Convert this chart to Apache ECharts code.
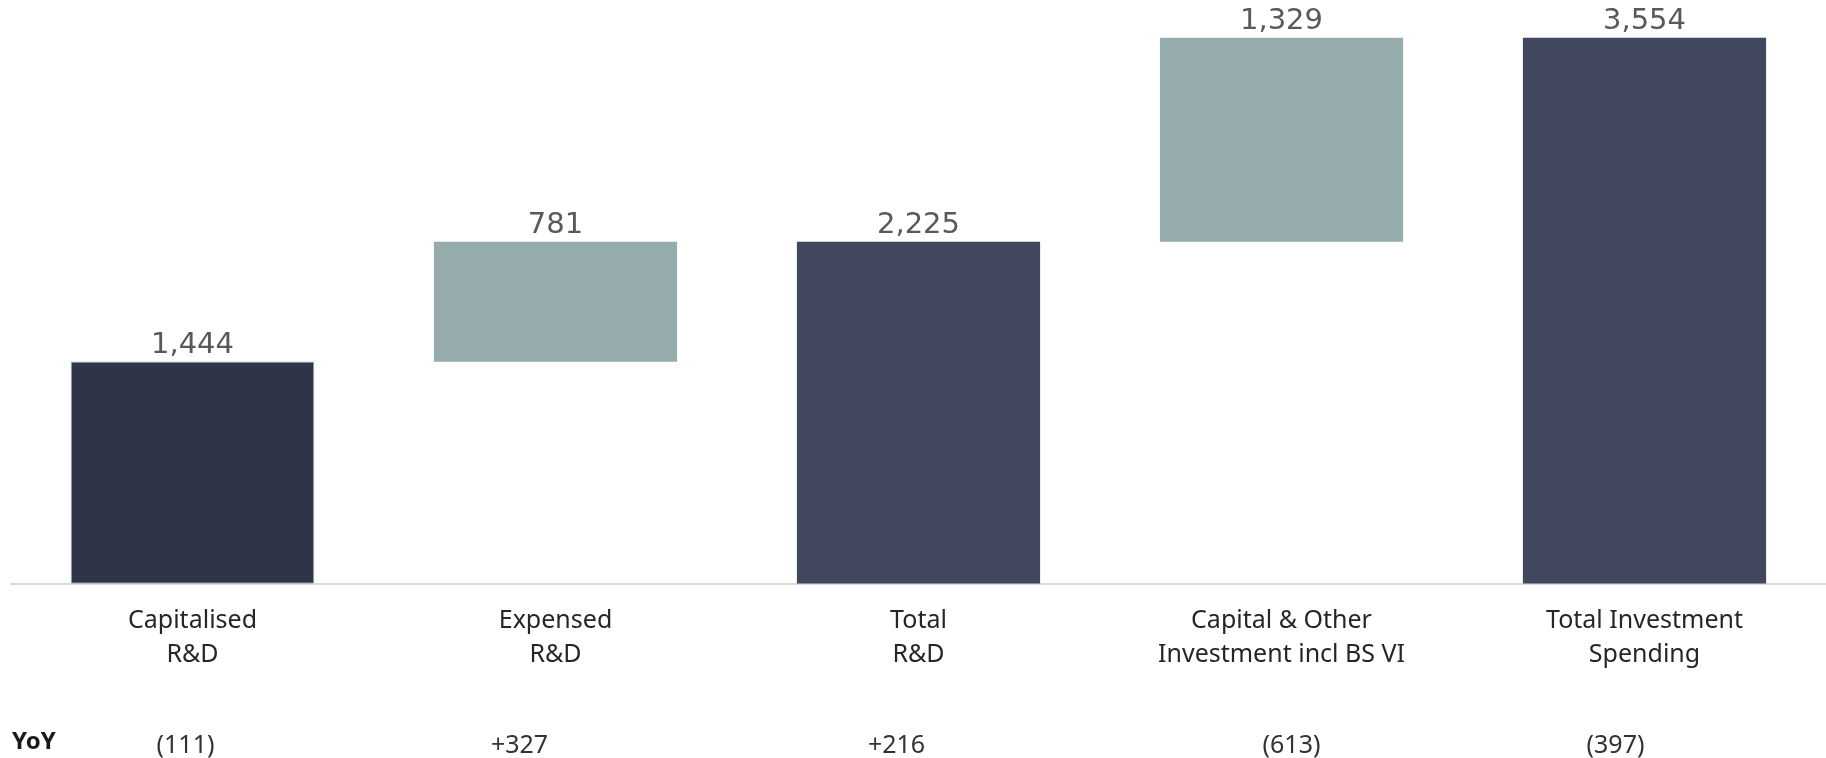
<!DOCTYPE html>
<html>
<head>
<meta charset="utf-8">
<script src="https://cdn.jsdelivr.net/npm/echarts@6/dist/echarts.min.js"></script>
<style>
  html, body { margin: 0; padding: 0; background: #ffffff; }
  #chart { width: 1826px; height: 758px; }
</style>
</head>
<body>
<div id="chart"></div>
<script>
// Investment spending bridge (waterfall)
const categories = [
  'Capitalised\nR&D',
  'Expensed\nR&D',
  'Total\nR&D',
  'Capital & Other\nInvestment incl BS VI',
  'Total Investment\nSpending'
];
const values = [1444, 781, 2225, 1329, 3554];
const kinds = ['total', 'delta', 'total', 'delta', 'total'];
const yoyLabels = ['(111)', '+327', '+216', '(613)', '(397)'];
// horizontal nudge (px) of each YoY figure relative to its column centre
const yoyShift = [-7, -36, -22, 10, -29];

const colors = {
  first: '#2f3546',
  total: '#41475c',
  delta: '#95abac'
};

// invisible base for floating delta bars
const base = [];
let running = 0;
values.forEach((v, i) => {
  if (kinds[i] === 'delta') {
    base.push(running);
    running += v;
  } else {
    base.push(0);
    running = v;
  }
});

const visible = values.map((v, i) => {
  const color = kinds[i] === 'delta' ? colors.delta : colors.total;
  const item = { value: v, itemStyle: { color: color } };
  if (i === 0) {
    item.itemStyle = { color: colors.first, borderColor: '#8fa1a3', borderWidth: 1 };
  }
  return item;
});

const yoyAxisData = yoyLabels.map((t, i) => {
  const s = yoyShift[i];
  return {
    value: t,
    textStyle: { padding: s < 0 ? [0, -2 * s, 0, 0] : [0, 0, 0, 2 * s] }
  };
});

const FONT = '"Noto Sans", "Open Sans", sans-serif';
const VALUE_FONT = '"DejaVu Sans", "Noto Sans", sans-serif';

const chart = echarts.init(document.getElementById('chart'), null, { renderer: 'canvas' });
chart.setOption({
  animation: false,
  backgroundColor: '#ffffff',
  grid: { left: 11, right: 0, top: 0, bottom: 174.5, containLabel: false, outerBoundsMode: 'none' },
  xAxis: [
    {
      type: 'category',
      data: categories,
      axisLine: { show: true, lineStyle: { color: '#d9d9d9', width: 2 } },
      axisTick: { show: false },
      axisLabel: {
        margin: 21,
        fontFamily: FONT,
        fontSize: 25,
        lineHeight: 33.5,
        color: '#262626',
        interval: 0
      }
    },
    {
      type: 'category',
      position: 'bottom',
      offset: 130,
      data: yoyAxisData,
      axisLine: { show: false },
      axisTick: { show: false },
      axisLabel: {
        margin: 17,
        fontFamily: FONT,
        fontSize: 25,
        lineHeight: 30,
        color: '#333333',
        interval: 0
      }
    }
  ],
  yAxis: {
    type: 'value',
    min: 0,
    max: 3800,
    show: false,
    splitLine: { show: false }
  },
  graphic: [
    {
      type: 'text',
      left: 12,
      top: 730,
      style: {
        text: 'YoY',
        fontFamily: FONT,
        fontSize: 24,
        fontWeight: 'bold',
        fill: '#1a1a1a'
      }
    }
  ],
  series: [
    {
      type: 'bar',
      stack: 'bridge',
      barWidth: '67%',
      data: base,
      itemStyle: { color: 'transparent' },
      emphasis: { disabled: true },
      silent: true
    },
    {
      type: 'bar',
      stack: 'bridge',
      barWidth: '67%',
      data: visible,
      label: {
        show: true,
        position: 'top',
        distance: 2,
        fontFamily: VALUE_FONT,
        fontSize: 29,
        color: '#595959',
        formatter: p => p.value.toLocaleString('en-US')
      }
    }
  ]
});
</script>
</body>
</html>
